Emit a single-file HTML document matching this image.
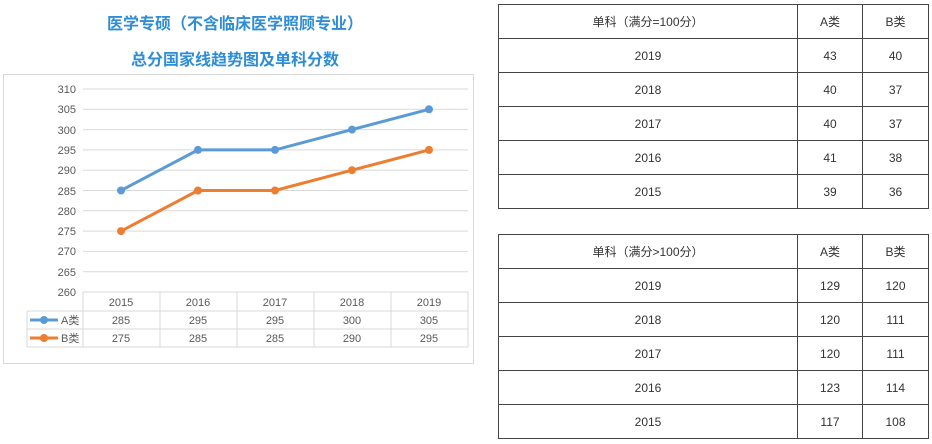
<!DOCTYPE html>
<html><head><meta charset="utf-8"><style>
body{margin:0;width:932px;height:444px;background:#fff;position:relative;overflow:hidden;font-family:"Liberation Sans","Noto Sans CJK SC",sans-serif}
.t{position:absolute;left:0;width:470px;text-align:center;color:#2e8dd4;font-weight:bold;font-size:16px}
table{position:absolute;border-collapse:collapse;font-size:12px;color:#333}
td{border:1px solid #444;text-align:center;height:33px;padding:0}
</style></head><body>
<div class="t" style="top:10px">医学专硕（不含临床医学照顾专业）</div>
<div class="t" style="top:46px">总分国家线趋势图及单科分数</div>
<svg style="position:absolute;left:0;top:0" width="480" height="370" font-family="Liberation Sans" font-size="11" fill="#595959">
<rect x="3.5" y="74.5" width="470" height="289" fill="none" stroke="#d9d9d9"/>
<g stroke="#d9d9d9">
<line x1="83" x2="468" y1="89" y2="89"/><line x1="83" x2="468" y1="109.3" y2="109.3"/><line x1="83" x2="468" y1="129.6" y2="129.6"/><line x1="83" x2="468" y1="149.9" y2="149.9"/><line x1="83" x2="468" y1="170.2" y2="170.2"/><line x1="83" x2="468" y1="190.5" y2="190.5"/><line x1="83" x2="468" y1="210.8" y2="210.8"/><line x1="83" x2="468" y1="231.1" y2="231.1"/><line x1="83" x2="468" y1="251.4" y2="251.4"/><line x1="83" x2="468" y1="271.7" y2="271.7"/>
<line x1="83" x2="468" y1="292" y2="292"/><line x1="27" x2="468" y1="311" y2="311"/><line x1="27" x2="468" y1="329" y2="329"/><line x1="27" x2="468" y1="347" y2="347"/>
<line x1="83" x2="83" y1="292" y2="347"/><line x1="160" x2="160" y1="292" y2="347"/><line x1="237" x2="237" y1="292" y2="347"/><line x1="314" x2="314" y1="292" y2="347"/><line x1="391" x2="391" y1="292" y2="347"/><line x1="468" x2="468" y1="292" y2="347"/><line x1="27" x2="27" y1="311" y2="347"/>
</g>
<g text-anchor="end"><text x="76" y="93">310</text><text x="76" y="113">305</text><text x="76" y="134">300</text><text x="76" y="154">295</text><text x="76" y="174">290</text><text x="76" y="195">285</text><text x="76" y="215">280</text><text x="76" y="235">275</text><text x="76" y="255">270</text><text x="76" y="276">265</text><text x="76" y="296">260</text></g>
<g text-anchor="middle">
<text x="121" y="306">2015</text><text x="198" y="306">2016</text><text x="275" y="306">2017</text><text x="352" y="306">2018</text><text x="429" y="306">2019</text>
<text x="121" y="324">285</text><text x="198" y="324">295</text><text x="275" y="324">295</text><text x="352" y="324">300</text><text x="429" y="324">305</text>
<text x="121" y="342">275</text><text x="198" y="342">285</text><text x="275" y="342">285</text><text x="352" y="342">290</text><text x="429" y="342">295</text>
</g>
<text x="61" y="324" font-family="Liberation Sans,Noto Sans CJK SC">A类</text><text x="61" y="342" font-family="Liberation Sans,Noto Sans CJK SC">B类</text>
<line x1="30" x2="58" y1="320" y2="320" stroke="#5b9bd5" stroke-width="3"/><circle cx="44" cy="320" r="4" fill="#5b9bd5"/>
<line x1="30" x2="58" y1="338" y2="338" stroke="#ed7d31" stroke-width="3"/><circle cx="44" cy="338" r="4" fill="#ed7d31"/>
<polyline points="121,190.5 198,149.9 275,149.9 352,129.6 429,109.3" fill="none" stroke="#5b9bd5" stroke-width="3"/>
<g fill="#5b9bd5"><circle cx="121" cy="190.5" r="4"/><circle cx="198" cy="149.9" r="4"/><circle cx="275" cy="149.9" r="4"/><circle cx="352" cy="129.6" r="4"/><circle cx="429" cy="109.3" r="4"/></g>
<polyline points="121,231.1 198,190.5 275,190.5 352,170.2 429,149.9" fill="none" stroke="#ed7d31" stroke-width="3"/>
<g fill="#ed7d31"><circle cx="121" cy="231.1" r="4"/><circle cx="198" cy="190.5" r="4"/><circle cx="275" cy="190.5" r="4"/><circle cx="352" cy="170.2" r="4"/><circle cx="429" cy="149.9" r="4"/></g>
</svg>
<table style="left:498px;top:4px;width:431px">
<tr><td style="width:298px">单科（满分=100分）</td><td style="width:64px">A类</td><td>B类</td></tr>
<tr><td>2019</td><td>43</td><td>40</td></tr>
<tr><td>2018</td><td>40</td><td>37</td></tr>
<tr><td>2017</td><td>40</td><td>37</td></tr>
<tr><td>2016</td><td>41</td><td>38</td></tr>
<tr><td>2015</td><td>39</td><td>36</td></tr>
</table>
<table style="left:498px;top:234px;width:431px">
<tr><td style="width:298px">单科（满分&gt;100分）</td><td style="width:64px">A类</td><td>B类</td></tr>
<tr><td>2019</td><td>129</td><td>120</td></tr>
<tr><td>2018</td><td>120</td><td>111</td></tr>
<tr><td>2017</td><td>120</td><td>111</td></tr>
<tr><td>2016</td><td>123</td><td>114</td></tr>
<tr><td>2015</td><td>117</td><td>108</td></tr>
</table>
</body></html>
